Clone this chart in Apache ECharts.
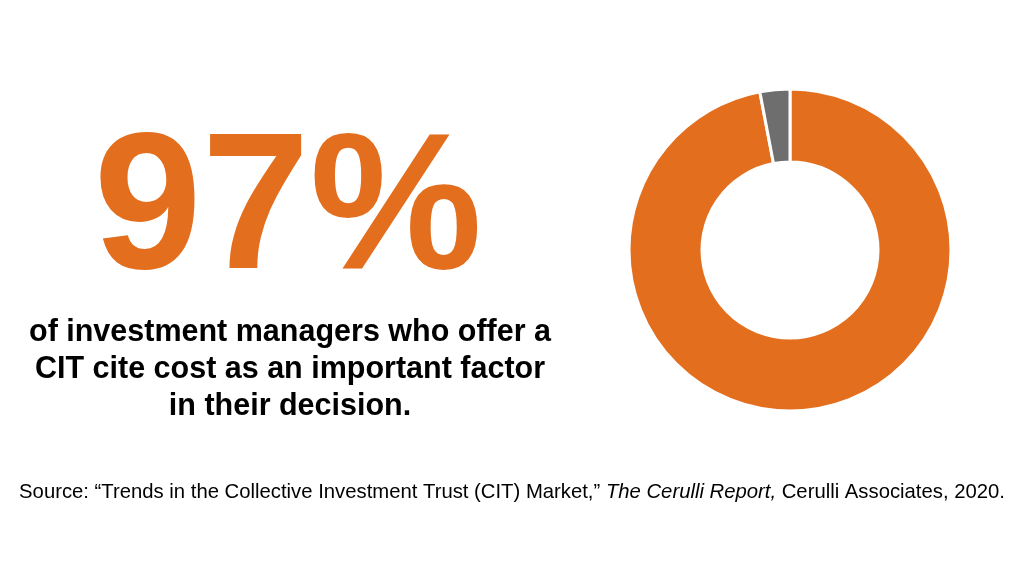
<!DOCTYPE html>
<html lang="en">
<head>
<meta charset="UTF-8" />
<title>CIT cost</title>
<script src="https://cdn.jsdelivr.net/npm/echarts@6/dist/echarts.min.js"></script>
<style>
  html, body { margin: 0; padding: 0; background: #fff; }
  #chart { width: 1024px; height: 576px; }
</style>
</head>
<body>
<div id="chart"></div>
<script>
  const sliceNames = ['Cite cost', 'Other']
  const sliceValues = [97, 3]
  const sliceColors = ['#E36F1E', '#6E6E6E']
  const headline = '97%'
  const captionLines = [
    'of investment managers who offer a',
    'CIT cite cost as an important factor',
    'in their decision.'
  ]
  const sourceText = 'Source: \u201cTrends in the Collective Investment Trust (CIT) Market,\u201d {i|The Cerulli Report,} Cerulli Associates, 2020.'

  const chart = echarts.init(document.getElementById('chart'))
  const font = 'Liberation Sans, Arial, sans-serif'

  chart.setOption({
    animation: false,
    graphic: [
      {
        type: 'text',
        style: {
          text: headline, align: 'center', verticalAlign: 'middle',
          font: 'bold 194px ' + font, fill: '#E36F1E'
        },
        position: [288, 214]
      },
      {
        type: 'text',
        style: {
          text: captionLines.join('\n'), align: 'center', verticalAlign: 'top',
          font: 'bold 30.5px ' + font, fill: '#000', lineHeight: 37
        },
        position: [290, 314]
      },
      {
        type: 'text',
        style: {
          text: sourceText, align: 'center', verticalAlign: 'middle',
          font: '20.3px ' + font, fill: '#000',
          rich: { i: { fontStyle: 'italic', fontSize: 20.3, fontFamily: font } }
        },
        position: [512, 492]
      }
    ],
    series: [{
      type: 'pie',
      center: [790, 250],
      radius: [88, 161],
      startAngle: 90,
      label: { show: false },
      emphasis: { disabled: true },
      itemStyle: { borderColor: '#fff', borderWidth: 3 },
      data: sliceNames.map((n, i) => ({ name: n, value: sliceValues[i], itemStyle: { color: sliceColors[i] } }))
    }]
  })
</script>
</body>
</html>
